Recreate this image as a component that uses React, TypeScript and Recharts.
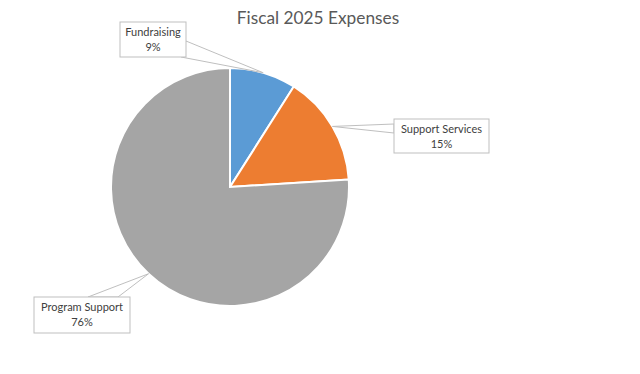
import { PieChart, Pie, Cell } from "recharts";

const categories = ["Fundraising", "Support Services", "Program Support"];
const shares = [9, 15, 76];
const colors = ["#5B9BD5", "#ED7D31", "#A5A5A5"];

const data = categories.map((name, i) => ({ name, value: shares[i] }));

// callout box placement per slice (layout only)
const callouts = [
  { x: 120, y: 22, w: 66, h: 35, base: [[186, 41], [181, 57]] },
  { x: 394, y: 119, w: 95, h: 34, base: [[394, 124], [394, 133]] },
  { x: 34, y: 297, w: 96, h: 36, base: [[88, 297], [118, 297]] },
];

const RAD = Math.PI / 180;
const FONT = "Lato, 'Open Sans', sans-serif";

function renderCallout(props: any) {
  const { cx, cy, midAngle, outerRadius, index, name, percent } = props;
  const c = callouts[index];
  const a = midAngle * RAD;
  const ax = cx + outerRadius * Math.cos(-a);
  const ay = cy + outerRadius * Math.sin(-a);
  const pts = `${c.base[0][0]},${c.base[0][1]} ${ax},${ay} ${c.base[1][0]},${c.base[1][1]}`;
  const mx = c.x + c.w / 2;
  return (
    <g key={`callout-${index}`}>
      <polygon points={pts} fill="#fff" stroke="#bfbfbf" strokeWidth={1} />
      <rect x={c.x} y={c.y} width={c.w} height={c.h} fill="#fff" stroke="#bfbfbf" strokeWidth={1} />
      <text x={mx} y={c.y + 14} textAnchor="middle" fontSize={11} fill="#404040" fontFamily={FONT}>
        {name}
      </text>
      <text x={mx} y={c.y + 29} textAnchor="middle" fontSize={11} fill="#404040" fontFamily={FONT}>
        {`${Math.round(percent * 100)}%`}
      </text>
    </g>
  );
}

export default function App() {
  return (
    <div style={{ position: "absolute", left: 0, top: 0, width: 640, height: 374, background: "#fff" }}>
      <div
        style={{
          position: "absolute",
          left: 0,
          top: 7,
          width: 636,
          textAlign: "center",
          fontFamily: FONT,
          fontSize: 17.3,
          color: "#595959",
        }}
      >
        Fiscal 2025 Expenses
      </div>
      <PieChart width={640} height={374} style={{ position: "absolute", left: 0, top: 0 }}>
        <Pie
          data={data}
          dataKey="value"
          nameKey="name"
          cx={225}
          cy={182}
          outerRadius={119}
          startAngle={90}
          endAngle={-270}
          stroke="#fff"
          strokeWidth={2}
          label={renderCallout}
          labelLine={false}
          isAnimationActive={false}
        >
          {data.map((d, i) => (
            <Cell key={d.name} fill={colors[i]} />
          ))}
        </Pie>
      </PieChart>
    </div>
  );
}
